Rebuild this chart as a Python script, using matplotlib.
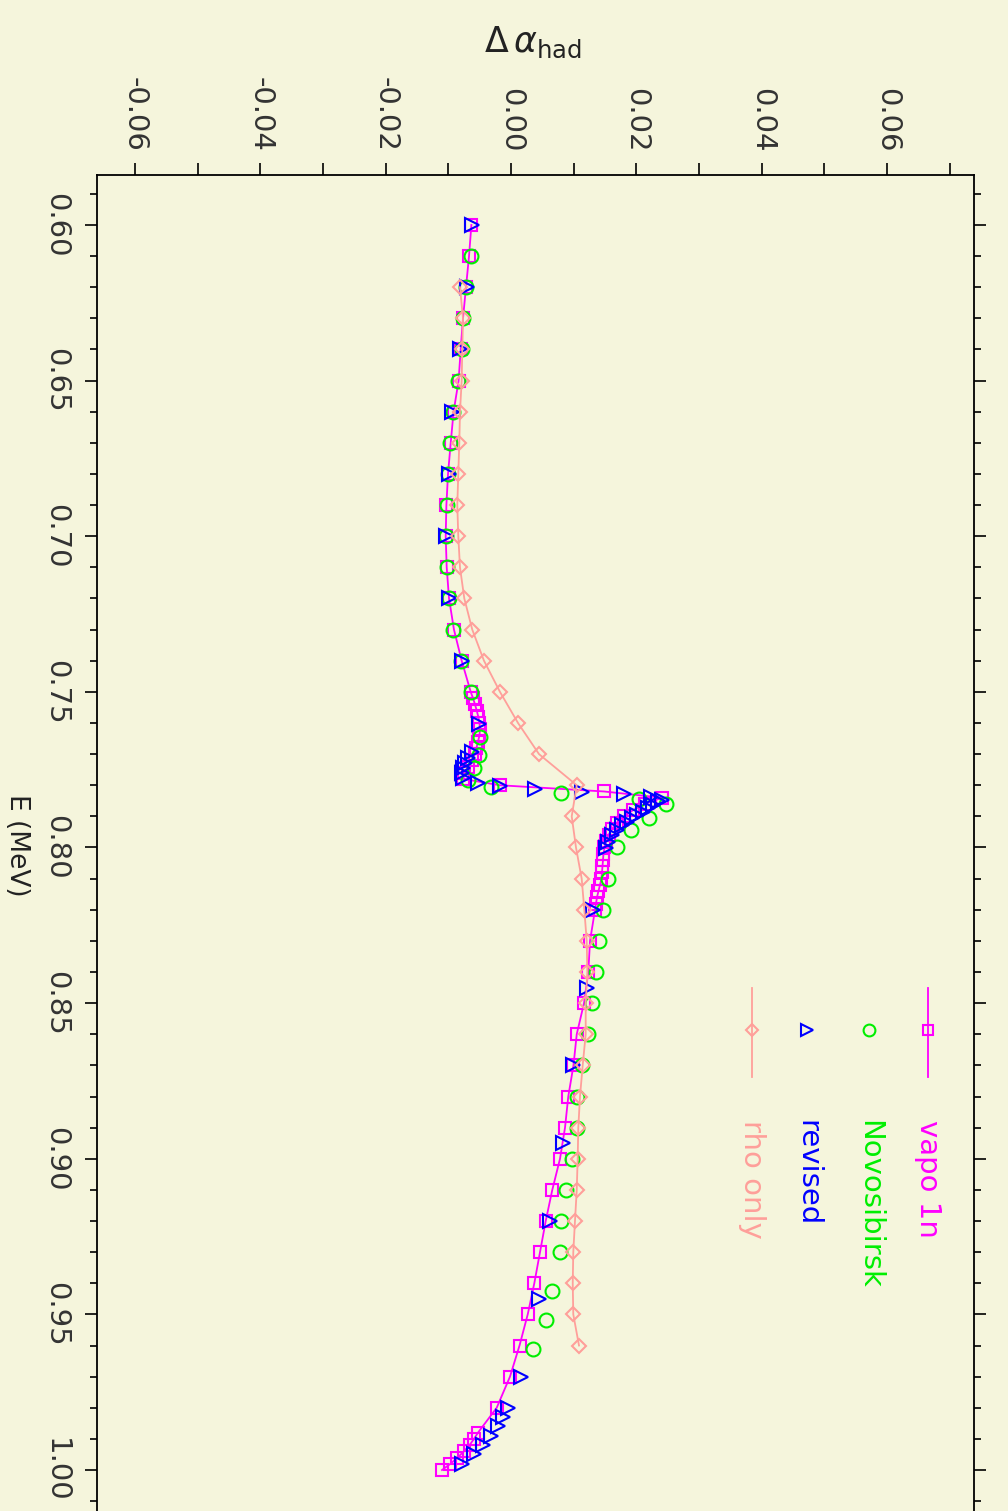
import matplotlib
matplotlib.use('Agg')
import matplotlib.pyplot as plt
from matplotlib.ticker import MultipleLocator, FixedLocator

plt.rcParams['axes.unicode_minus'] = False
plt.rcParams['font.family'] = ['DejaVu Sans']

BG = '#f5f5dc'

# vapo 1n (squares + line)
vapo_E = [0.60, 0.61, 0.62, 0.63, 0.64, 0.65, 0.66, 0.67, 0.68, 0.69, 0.70, 0.71, 0.72, 0.73, 0.74,
          0.750, 0.752, 0.754, 0.756, 0.758, 0.760, 0.762, 0.764, 0.766, 0.768, 0.770, 0.772, 0.774,
          0.776, 0.778, 0.780, 0.782, 0.784, 0.786, 0.788, 0.790, 0.792, 0.794, 0.796, 0.798, 0.800,
          0.802, 0.804, 0.806, 0.808, 0.810, 0.812, 0.814, 0.816, 0.818, 0.820,
          0.83, 0.84, 0.85, 0.86, 0.87, 0.88, 0.89, 0.90, 0.91, 0.92, 0.93, 0.94, 0.95, 0.96, 0.97, 0.98,
          0.988, 0.990, 0.992, 0.994, 0.996, 0.998, 1.000]
vapo_da = [-0.00632, -0.00670, -0.00718, -0.00766, -0.00803, -0.00836, -0.00916, -0.00962, -0.01005,
           -0.01031, -0.01042, -0.01026, -0.00989, -0.00910, -0.00787,
           -0.00643, -0.00606, -0.00575, -0.00547, -0.00522, -0.00503, -0.00495, -0.00503, -0.00527,
           -0.00551, -0.00575, -0.00627, -0.00686, -0.00742, -0.00758, -0.00176, 0.01484, 0.02410,
           0.02139, 0.01947, 0.01803, 0.01692, 0.01612, 0.01556, 0.01516, 0.01492, 0.01476, 0.01468,
           0.01460, 0.01452, 0.01444, 0.01420, 0.01396, 0.01372, 0.01357, 0.01341,
           0.01261, 0.01234, 0.01165, 0.01049, 0.00997, 0.00914, 0.00862, 0.00782, 0.00659, 0.00554,
           0.00463, 0.00372, 0.00267, 0.00136, -0.00016, -0.00228,
           -0.00527, -0.00590, -0.00662, -0.00750, -0.00854, -0.00966, -0.01101]

# Novosibirsk (circles)
novo_E = [0.61, 0.62, 0.63, 0.64, 0.65, 0.66, 0.67, 0.68, 0.69, 0.70, 0.71, 0.72, 0.73, 0.74, 0.75,
          0.7644, 0.7703, 0.7746, 0.7783, 0.7805, 0.7824, 0.7845, 0.7861, 0.7906, 0.7944, 0.800,
          0.81, 0.82, 0.83, 0.84, 0.85, 0.86, 0.87, 0.88, 0.89, 0.90, 0.91, 0.92, 0.93,
          0.9424, 0.9518, 0.9612]
novo_da = [-0.00646, -0.00718, -0.00771, -0.00787, -0.00851, -0.00921, -0.00966, -0.01001, -0.01026,
           -0.01037, -0.01021, -0.00985, -0.00918, -0.00803, -0.00643,
           -0.00487, -0.00506, -0.00598, -0.00681, -0.00319, 0.00790, 0.02043, 0.02466, 0.02202,
           0.01907, 0.01684, 0.01543, 0.01463, 0.01409, 0.01357, 0.01288, 0.01234, 0.01133, 0.01058,
           0.01049, 0.00974, 0.00878, 0.00798, 0.00782, 0.00650, 0.00559, 0.00356]

# revised (triangles)
rev_E = [0.60, 0.62, 0.64, 0.66, 0.68, 0.70, 0.72, 0.74, 0.7603,
         0.7692, 0.7714, 0.7730, 0.7746, 0.7762, 0.7778, 0.7794, 0.7802, 0.7811, 0.7821, 0.7828,
         0.7837, 0.7846, 0.7851, 0.7862, 0.7874, 0.7885, 0.7896, 0.7906, 0.7917, 0.7928, 0.7944,
         0.7960, 0.7981, 0.8003, 0.820, 0.845, 0.870, 0.895, 0.920, 0.945, 0.970,
         0.980, 0.983, 0.986, 0.989, 0.992, 0.995, 0.998]
rev_da = [-0.00627, -0.00707, -0.00814, -0.00937, -0.00985, -0.01037, -0.00985, -0.00787, -0.00506,
          -0.00627, -0.00681, -0.00734, -0.00771, -0.00787, -0.00761, -0.00522, -0.00176, 0.00383,
          0.01133, 0.01803, 0.02234, 0.02410, 0.02351, 0.02271, 0.02191, 0.02111, 0.02006, 0.01926,
          0.01846, 0.01767, 0.01687, 0.01607, 0.01553, 0.01516, 0.01313, 0.01208, 0.00985, 0.00825,
          0.00622, 0.00452, 0.00155, -0.00048, -0.00128, -0.00212, -0.00324, -0.00447, -0.00590,
          -0.00787]

# rho only (diamonds + line)
rho_E = [0.62, 0.63, 0.64, 0.65, 0.66, 0.67, 0.68, 0.69, 0.70, 0.71, 0.72, 0.73, 0.74, 0.75, 0.76,
         0.77, 0.78, 0.79, 0.80, 0.81, 0.82, 0.83, 0.84, 0.85, 0.86, 0.87, 0.88, 0.89, 0.90, 0.91,
         0.92, 0.93, 0.94, 0.95, 0.96]
rho_da = [-0.00814, -0.00766, -0.00777, -0.00787, -0.00814, -0.00825, -0.00841, -0.00857, -0.00841,
          -0.00814, -0.00745, -0.00618, -0.00431, -0.00176, 0.00112, 0.00447, 0.01049, 0.00969,
          0.01037, 0.01128, 0.01170, 0.01208, 0.01218, 0.01192, 0.01192, 0.01144, 0.01101, 0.01074,
          0.01064, 0.01049, 0.01021, 0.00994, 0.00985, 0.00994, 0.01085]

e_ticks = [0.60, 0.65, 0.70, 0.75, 0.80, 0.85, 0.90, 0.95, 1.00]
da_ticks = [-0.06, -0.04, -0.02, 0.00, 0.02, 0.04, 0.06]

series = [
    ('vapo 1n', vapo_E, vapo_da, '#ff00ff', 's', '-'),
    ('Novosibirsk', novo_E, novo_da, '#00ee00', 'o', 'none'),
    ('revised', rev_E, rev_da, '#0000ff', '>', 'none'),
    ('rho only', rho_E, rho_da, '#ff9f9a', 'D', '-'),
]

marker_size = {'s': 9, 'o': 10, '>': 9.5, 'D': 7.5}


def plot_rotated():
    fig = plt.figure(figsize=(10.08, 15.11), dpi=100, facecolor=BG)
    ax = fig.add_axes([97 / 1008, 0.0, 877 / 1008, 1 - 175 / 1511])
    ax.set_facecolor(BG)

    for name, e, da, col, mk, ls in series:
        ax.plot(da, e, linestyle=ls, color=col, linewidth=1.3, marker=mk,
                markersize=marker_size[mk], markerfacecolor='none', markeredgecolor=col,
                markeredgewidth=1.5)

    ax.set_xlim(-0.06606, 0.07388)
    ax.set_ylim(1.01317, 0.58394)

    # ticks: value axis along the top, energy axis on the left
    ax.xaxis.set_ticks_position('top')
    ax.xaxis.set_major_locator(FixedLocator(da_ticks))
    ax.xaxis.set_minor_locator(MultipleLocator(0.01))
    ax.set_xticklabels(['%.2f' % v for v in da_ticks])
    ax.tick_params(axis='x', which='both', direction='out', length=8.5, width=1.2,
                   labelsize=21, labelcolor='#333333', labelrotation=-90, pad=8)

    ax.yaxis.set_ticks_position('both')
    ax.yaxis.set_major_locator(FixedLocator(e_ticks))
    ax.yaxis.set_minor_locator(MultipleLocator(0.01))
    ax.set_yticklabels(['%.2f' % v for v in e_ticks])
    ax.tick_params(axis='y', which='major', direction='out', length=8.5, width=1.2,
                   labelsize=21, labelcolor='#333333', labelrotation=-90, pad=11)
    ax.tick_params(axis='y', which='minor', direction='out', length=5, width=1.2)
    for lab in ax.get_yticklabels():
        lab.set_va('center')

    for side in ['top', 'left', 'right']:
        ax.spines[side].set_linewidth(1.3)
    ax.spines['bottom'].set_visible(False)

    fig.text(533 / 1008, 1 - 42 / 1511, r'$\Delta\,\alpha_{\rm had}$', fontsize=25,
             ha='center', va='center', color='#222222')
    fig.text(17 / 1008, 1 - 845 / 1511, 'E (MeV)', fontsize=19, rotation=-90,
             ha='center', va='center', color='#222222')

    # legend drawn by hand, rotated like the rest of the chart
    def ax_x(px):
        return (px - 97) / 877

    def ax_y(py):
        return (1511 - py) / 1336

    legend_x = [928, 869, 807, 752]
    for (name, e, da, col, mk, ls), lx in zip(series, legend_x):
        if ls == '-':
            ax.plot([ax_x(lx), ax_x(lx)], [ax_y(988), ax_y(1077)], color=col, linewidth=1.3,
                    transform=ax.transAxes, clip_on=False)
        ax.plot([ax_x(lx)], [ax_y(1030)], marker=mk, markersize=marker_size[mk] - 1.5,
                markerfacecolor='none', markeredgecolor=col, markeredgewidth=1.5,
                transform=ax.transAxes, clip_on=False)
        ax.text(ax_x(lx), ax_y(1120), name, color=col, fontsize=21, rotation=-90,
                ha='center', va='top', transform=ax.transAxes)

    fig.savefig('out.png', dpi=100, facecolor=BG)
    plt.close(fig)


if __name__ == "__main__":
    plot_rotated()
